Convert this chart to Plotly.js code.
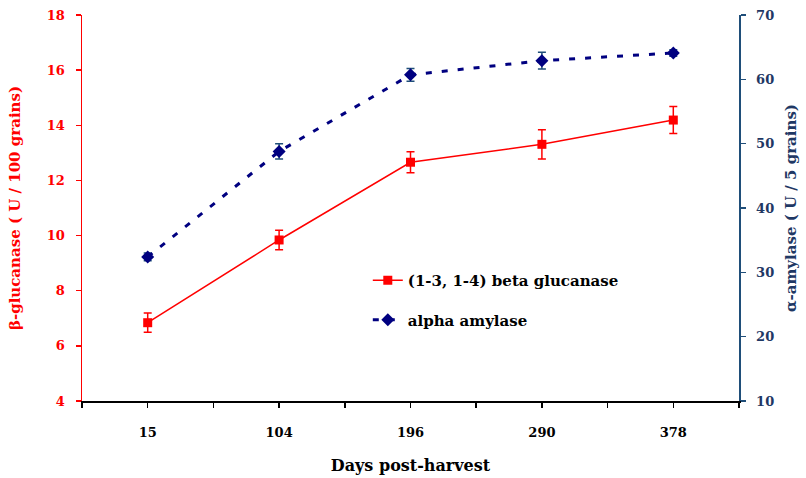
<!DOCTYPE html>
<html>
<head>
<meta charset="utf-8">
<script src="https://cdn.plot.ly/plotly-3.0.1.min.js"></script>
<style>html,body{margin:0;padding:0;background:#fff;}#chart{width:806px;height:478px;}</style>
</head>
<body>
<div id="chart"></div>
<script>
const days = ['15', '104', '196', '290', '378'];
const glucanase = [6.84, 9.84, 12.66, 13.31, 14.19];
const glucanaseErr = [0.35, 0.35, 0.38, 0.53, 0.49];
const amylase = [32.4, 48.8, 60.7, 62.9, 64.1];
const amylaseErr = [0.6, 1.2, 1.0, 1.3, 0.5];
const leftTicks = [4, 6, 8, 10, 12, 14, 16, 18];
const rightTicks = [10, 20, 30, 40, 50, 60, 70];

const idx = days.map((d, i) => i);
const serif = 'DejaVu Serif, serif';

const traces = [
  {
    x: idx, y: glucanase, name: '(1-3, 1-4) beta glucanase', type: 'scatter', mode: 'lines+markers',
    legendgroup: 'a',
    line: {color: '#FF0000', width: 1.5},
    marker: {symbol: 'square', size: 9, color: '#FF0000'},
    error_y: {type: 'data', array: glucanaseErr, visible: true, color: '#FF0000', thickness: 1.5, width: 4},
    yaxis: 'y'
  },
  {
    x: idx, y: amylase, name: 'alpha amylase', type: 'scatter', mode: 'lines+markers',
    legendgroup: 'b',
    line: {color: '#000080', width: 3, dash: '6px,10px'},
    marker: {symbol: 'diamond', size: 10, color: '#000080'},
    error_y: {type: 'data', array: amylaseErr, visible: true, color: '#1F4E79', thickness: 1.5, width: 4},
    yaxis: 'y2'
  }
];

const layout = {
  width: 806, height: 478,
  margin: {l: 82, r: 67, t: 15, b: 77},
  paper_bgcolor: '#fff', plot_bgcolor: '#fff',
  font: {family: serif, size: 13, color: '#000', weight: 'bold'},
  showlegend: true,
  legend: {x: 0.435, y: 0.355, xanchor: 'left', yanchor: 'top', bgcolor: 'rgba(0,0,0,0)',
           font: {family: serif, size: 15, color: '#000', weight: 'bold'}, tracegroupgap: 17},
  xaxis: {
    range: [-0.5, 4.5], tickvals: idx, ticktext: days,
    showline: true, linecolor: '#000', linewidth: 1.5,
    ticks: 'outside', ticklen: 5, tickcolor: '#000', tickwidth: 1.5,
    minor: {dtick: 0.5, ticks: 'outside', ticklen: 5, tickcolor: '#000', tickwidth: 1.5, showgrid: false},
    showgrid: false, zeroline: false, ticklabelstandoff: 14,
    tickfont: {family: serif, size: 13, color: '#000', weight: 'bold'},
    title: {text: 'Days post-harvest', font: {family: serif, size: 16, color: '#000', weight: 'bold'}, standoff: 20}
  },
  yaxis: {
    range: [4, 18], tickvals: leftTicks,
    showline: true, linecolor: '#FF0000', linewidth: 1.5,
    ticks: 'outside', ticklen: 5, tickcolor: '#FF0000', tickwidth: 1.5,
    showgrid: false, zeroline: false, ticklabelstandoff: 8,
    tickfont: {family: serif, size: 13, color: '#FF0000', weight: 'bold'},
    title: {text: 'β-glucanase ( U / 100 grains)', font: {family: serif, size: 15, color: '#FF0000', weight: 'bold'}, standoff: 22}
  },
  yaxis2: {
    range: [10, 70], tickvals: rightTicks, overlaying: 'y', side: 'right',
    showline: true, linecolor: '#1F4E79', linewidth: 1.5,
    ticks: 'outside', ticklen: 5, tickcolor: '#1F4E79', tickwidth: 1.5,
    showgrid: false, zeroline: false, ticklabelstandoff: 8,
    tickfont: {family: serif, size: 13, color: '#1F3864', weight: 'bold'},
    title: {text: 'α-amylase ( U / 5 grains)', font: {family: serif, size: 15, color: '#1F3864', weight: 'bold'}, standoff: 12}
  }
};

Plotly.newPlot('chart', traces, layout, {displayModeBar: false, staticPlot: true});
</script>
</body>
</html>
